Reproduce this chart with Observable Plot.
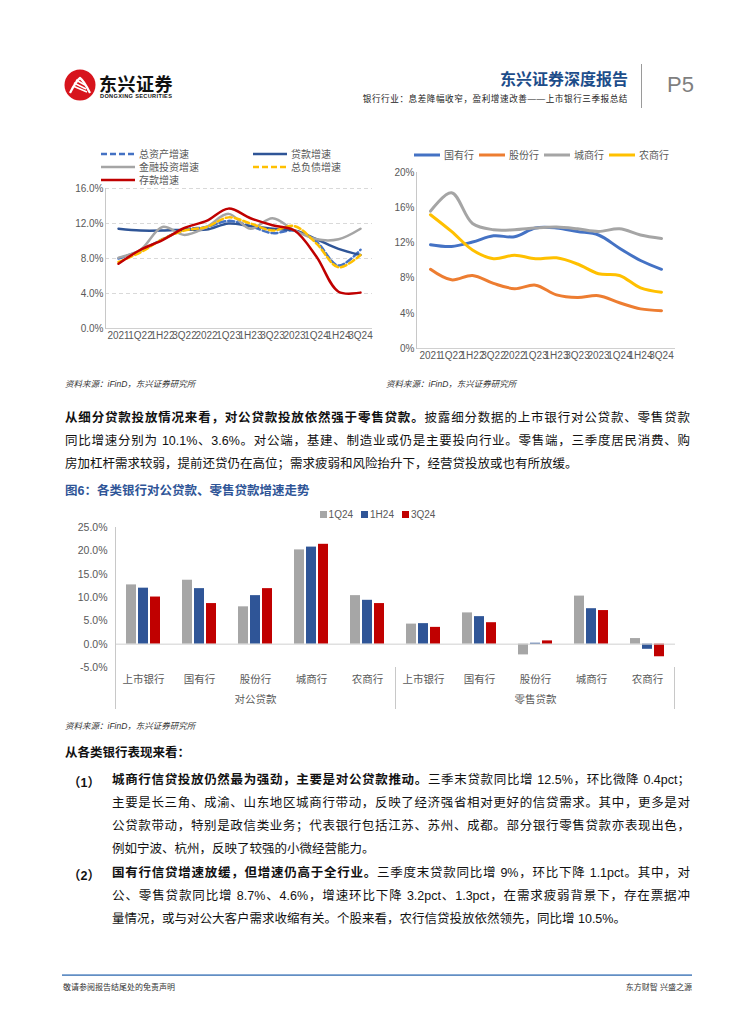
<!DOCTYPE html>
<html lang="zh">
<head>
<meta charset="utf-8">
<script src="https://cdn.jsdelivr.net/npm/d3@7"></script>
<script src="https://cdn.jsdelivr.net/npm/@observablehq/plot@0.6"></script>
<style>
html,body{margin:0;padding:0;background:#fff;}
#page{position:relative;width:755px;height:1024px;overflow:hidden;font-family:"Liberation Sans","Noto Sans CJK SC",sans-serif;color:#111;}
.a{position:absolute;white-space:nowrap;}
.tl{position:absolute;font-size:12.5px;line-height:16px;height:16px;white-space:normal;text-align:justify;text-align-last:justify;}
.tl.last{text-align-last:left;}
.b{font-weight:bold;}
.src{position:absolute;font-size:8.5px;font-style:italic;color:#333;white-space:nowrap;}
.leg{position:absolute;font-size:10px;color:#595959;white-space:nowrap;display:flex;align-items:center;}
.leg svg{display:block;margin-right:4px;}
.chart{position:absolute;}
</style>
</head>
<body>
<div id="page">
  <!-- header -->
  <svg class="a" style="left:64px;top:69px" width="32" height="32" viewBox="0 0 32 32">
    <circle cx="16" cy="16" r="15.5" fill="#d7141d"/>
    <path d="M6 24 Q12 12 16 9 Q20 12 26 24" fill="none" stroke="#fff" stroke-width="2.2"/>
    <path d="M10 14 L22 20 M9 17 L23 23 M12 11 L21 16" stroke="#fff" stroke-width="1.6"/>
  </svg>
  <div class="a b" style="left:99px;top:70px;font-size:18px;letter-spacing:0.5px;color:#111;">东兴证券</div>
  <div class="a b" style="left:100px;top:93px;font-size:5.6px;letter-spacing:0.35px;color:#111;">DONGXING SECURITIES</div>
  <div class="a b" style="right:127px;top:66px;font-size:16px;color:#1d4d8a;">东兴证券深度报告</div>
  <div class="a" style="right:127px;top:92px;font-size:8.6px;letter-spacing:0.55px;color:#222;">银行行业：息差降幅收窄，盈利增速改善——上市银行三季报总结</div>
  <div class="a" style="left:641px;top:64px;width:1px;height:44px;background:#9a9a9a;"></div>
  <div class="a" style="left:667px;top:72px;font-size:22px;color:#7f7f7f;">P5</div>

  <!-- left legend -->
  <div class="leg" style="left:101px;top:146px"><svg width="34" height="6"><line x1="0" y1="3" x2="34" y2="3" stroke="#4472c4" stroke-width="2.5" stroke-dasharray="6,3"/></svg>总资产增速</div>
  <div class="leg" style="left:253px;top:146px"><svg width="34" height="6"><line x1="0" y1="3" x2="34" y2="3" stroke="#2f5597" stroke-width="2.5"/></svg>贷款增速</div>
  <div class="leg" style="left:101px;top:159px"><svg width="34" height="6"><line x1="0" y1="3" x2="34" y2="3" stroke="#a5a5a5" stroke-width="2.5"/></svg>金融投资增速</div>
  <div class="leg" style="left:253px;top:159px"><svg width="34" height="6"><line x1="0" y1="3" x2="34" y2="3" stroke="#ffc000" stroke-width="2.5" stroke-dasharray="6,3"/></svg>总负债增速</div>
  <div class="leg" style="left:101px;top:172px"><svg width="34" height="6"><line x1="0" y1="3" x2="34" y2="3" stroke="#c00000" stroke-width="2.5"/></svg>存款增速</div>

  <!-- right legend -->
  <div class="leg" style="left:414px;top:147px"><svg width="26" height="6"><line x1="0" y1="3" x2="26" y2="3" stroke="#4472c4" stroke-width="3"/></svg>国有行</div>
  <div class="leg" style="left:479px;top:147px"><svg width="26" height="6"><line x1="0" y1="3" x2="26" y2="3" stroke="#ed7d31" stroke-width="3"/></svg>股份行</div>
  <div class="leg" style="left:544px;top:147px"><svg width="26" height="6"><line x1="0" y1="3" x2="26" y2="3" stroke="#a5a5a5" stroke-width="3"/></svg>城商行</div>
  <div class="leg" style="left:609px;top:147px"><svg width="26" height="6"><line x1="0" y1="3" x2="26" y2="3" stroke="#ffc000" stroke-width="3"/></svg>农商行</div>

  <div id="leftChart" class="chart" style="left:60px;top:178px"></div>
  <div id="rightChart" class="chart" style="left:380px;top:162px"></div>

  <div class="src" style="left:65px;top:377px">资料来源：iFinD，东兴证券研究所</div>
  <div class="src" style="left:386px;top:377px">资料来源：iFinD，东兴证券研究所</div>

  <!-- paragraph -->
  <div class="tl" style="left:65px;top:410px;width:625px"><span class="b">从细分贷款投放情况来看，对公贷款投放依然强于零售贷款。</span>披露细分数据的上市银行对公贷款、零售贷款</div>
  <div class="tl" style="left:65px;top:433px;width:625px">同比增速分别为 10.1%、3.6%。对公端，基建、制造业或仍是主要投向行业。零售端，三季度居民消费、购</div>
  <div class="tl last" style="left:65px;top:456px;width:625px">房加杠杆需求较弱，提前还贷仍在高位；需求疲弱和风险抬升下，经营贷投放或也有所放缓。</div>

  <div class="a b" style="left:65px;top:480px;font-size:12.5px;color:#2f5597;">图6：各类银行对公贷款、零售贷款增速走势</div>

  <div id="barLegend" class="leg" style="left:0;width:755px;top:509px;justify-content:center;padding-left:0px;"></div>
  <div id="barChart" class="chart" style="left:60px;top:517px"></div>

  <div class="src" style="left:65px;top:719px">资料来源：iFinD，东兴证券研究所</div>

  <div class="a b" style="left:65px;top:742px;font-size:12.5px;">从各类银行表现来看：</div>

  <div class="a b" style="left:68px;top:772px;font-size:12.5px;">（1）</div>
  <div class="tl" style="left:112px;top:772px;width:578px"><span class="b">城商行信贷投放仍然最为强劲，主要是对公贷款推动。</span>三季末贷款同比增 12.5%，环比微降 0.4pct；</div>
  <div class="tl" style="left:112px;top:795px;width:578px">主要是长三角、成渝、山东地区城商行带动，反映了经济强省相对更好的信贷需求。其中，更多是对</div>
  <div class="tl" style="left:112px;top:818px;width:578px">公贷款带动，特别是政信类业务；代表银行包括江苏、苏州、成都。部分银行零售贷款亦表现出色，</div>
  <div class="tl last" style="left:112px;top:841px;width:578px">例如宁波、杭州，反映了较强的小微经营能力。</div>

  <div class="a b" style="left:68px;top:865px;font-size:12.5px;">（2）</div>
  <div class="tl" style="left:112px;top:865px;width:578px"><span class="b">国有行信贷增速放缓，但增速仍高于全行业。</span>三季度末贷款同比增 9%，环比下降 1.1pct。其中，对</div>
  <div class="tl" style="left:112px;top:888px;width:578px">公、零售贷款同比增 8.7%、4.6%，增速环比下降 3.2pct、1.3pct，在需求疲弱背景下，存在票据冲</div>
  <div class="tl last" style="left:112px;top:911px;width:578px">量情况，或与对公大客户需求收缩有关。个股来看，农行信贷投放依然领先，同比增 10.5%。</div>

  <!-- footer -->
  <div class="a" style="left:62px;top:974px;width:630px;height:2px;background:linear-gradient(#9dbbe0,#4f7fb8);"></div>
  <div class="a" style="left:63px;top:981px;font-size:8px;color:#333;">敬请参阅报告结尾处的免责声明</div>
  <div class="a" style="right:63px;top:981px;font-size:8px;color:#333;">东方财智 兴盛之源</div>
</div>

<script>
// ---------------- data ----------------
const periods = ["2021","1Q22","1H22","3Q22","2022","1Q23","1H23","3Q23","2023","1Q24","1H24","3Q24"];

// left chart: listed banks balance-sheet growth (%)
const leftNames = ["总资产增速","贷款增速","金融投资增速","总负债增速","存款增速"];
const totalAssetsGrowth = [8.0, 8.9, 10.2, 11.3, 11.6, 12.3, 11.7, 10.9, 11.2, 9.9, 7.2, 9.0];
const loanGrowth        = [11.4, 11.2, 11.2, 11.3, 11.3, 12.0, 11.7, 11.4, 11.2, 10.2, 9.1, 8.4];
const investGrowth      = [8.1, 9.0, 11.6, 10.7, 11.6, 13.1, 11.4, 12.6, 11.2, 10.2, 10.2, 11.4];
const liabilityGrowth   = [7.6, 8.7, 10.2, 11.2, 11.6, 12.7, 12.0, 11.2, 11.7, 9.7, 7.0, 8.4];
const depositGrowth     = [7.4, 9.0, 10.1, 11.5, 12.3, 13.7, 12.6, 11.8, 11.2, 8.2, 4.2, 4.1];
const leftTicks = [0, 4, 8, 12, 16];

// right chart: loan growth by bank type (%)
const bankTypes = ["国有行","股份行","城商行","农商行"];
const stateOwnedGrowth = [11.8, 11.6, 12.1, 12.8, 12.7, 13.7, 13.7, 13.3, 12.9, 11.4, 10.0, 9.0];
const jointStockGrowth = [9.0, 7.8, 8.3, 7.4, 6.8, 7.2, 6.1, 5.8, 6.0, 5.2, 4.5, 4.3];
const cityBankGrowth   = [15.6, 17.7, 14.2, 13.5, 13.5, 13.7, 13.8, 13.6, 13.3, 13.6, 12.9, 12.5];
const ruralBankGrowth  = [15.2, 13.3, 11.2, 10.2, 10.6, 10.2, 10.3, 9.6, 8.5, 8.3, 6.9, 6.4];
const rightTicks = [0, 4, 8, 12, 16, 20];

// bar chart: corporate / retail loan growth (%)
const loanGroups = ["对公贷款","零售贷款"];
const barCategories = ["上市银行","国有行","股份行","城商行","农商行"];
const barSeries = ["1Q24","1H24","3Q24"];
const corp1Q24   = [12.7, 13.7, 8.0, 20.2, 10.4];
const corp1H24   = [12.0, 11.9, 10.4, 20.8, 9.4];
const corp3Q24   = [10.1, 8.7, 11.9, 21.4, 8.7];
const retail1Q24 = [4.3, 6.7, -2.3, 10.3, 1.2];
const retail1H24 = [4.4, 5.9, 0.2, 7.6, -1.1];
const retail3Q24 = [3.6, 4.6, 0.7, 7.2, -2.7];
const barTicks = [-5, 0, 5, 10, 15, 20, 25];

// ---------------- styles ----------------
const leftColors = ["#4472c4","#2f5597","#a5a5a5","#ffc000","#c00000"];
const leftDashes = ["6,3", null, null, "6,3", null];
const rightColors = ["#4472c4","#ed7d31","#a5a5a5","#ffc000"];
const barColors = ["#a6a6a6","#2f5597","#c00000"];
const tickFont = '"Liberation Sans", Arial, sans-serif';

// ---------------- left chart ----------------
const leftValues = [totalAssetsGrowth, loanGrowth, investGrowth, liabilityGrowth, depositGrowth];
const leftRows = leftNames.flatMap((n, si) => periods.map((p, i) => ({series: n, period: p, value: leftValues[si][i]})));
const leftPlot = Plot.plot({
  width: 320, height: 172, marginLeft: 45, marginRight: 8, marginTop: 10, marginBottom: 22,
  style: {fontFamily: tickFont, fontSize: "10px", color: "#595959", background: "transparent", overflow: "visible"},
  x: {type: "point", domain: periods, padding: 0.5, label: null, tickSize: 0, tickPadding: 3},
  y: {domain: [0, 16], ticks: leftTicks, tickFormat: d => d.toFixed(1) + "%", label: null, tickSize: 0, tickPadding: 2},
  marks: [
    Plot.ruleY(leftTicks.filter(t => t > 0), {stroke: "#d9d9d9", strokeDasharray: "4,3"}),
    Plot.ruleY([0], {stroke: "#d0d0d0"}),
    Plot.frame({anchor: "left", stroke: "#c8c8c8"}),
    ...leftNames.map((n, si) => Plot.line(leftRows, {
      filter: d => d.series === n, x: "period", y: "value",
      stroke: leftColors[si], strokeWidth: 2.5,
      strokeDasharray: leftDashes[si] || undefined, curve: "catmull-rom"
    }))
  ]
});
document.getElementById("leftChart").appendChild(leftPlot);

// ---------------- right chart ----------------
const rightValues = [stateOwnedGrowth, jointStockGrowth, cityBankGrowth, ruralBankGrowth];
const rightRows = bankTypes.flatMap((n, si) => periods.map((p, i) => ({series: n, period: p, value: rightValues[si][i]})));
const rightPlot = Plot.plot({
  width: 300, height: 208, marginLeft: 36, marginRight: 5, marginTop: 10, marginBottom: 22,
  style: {fontFamily: tickFont, fontSize: "10px", color: "#595959", background: "transparent", overflow: "visible"},
  x: {type: "point", domain: periods, padding: 0.5, label: null, tickSize: 0, tickPadding: 3},
  y: {domain: [0, 20], ticks: rightTicks, tickFormat: d => d + "%", label: null, tickSize: 0, tickPadding: 2},
  marks: [
    Plot.ruleY([0], {stroke: "#d0d0d0"}),
    Plot.frame({anchor: "left", stroke: "#c8c8c8"}),
    ...bankTypes.map((n, si) => Plot.line(rightRows, {
      filter: d => d.series === n, x: "period", y: "value",
      stroke: rightColors[si], strokeWidth: 3, curve: "catmull-rom"
    }))
  ]
});
document.getElementById("rightChart").appendChild(rightPlot);

// ---------------- bar chart ----------------
const barValues = {
  "对公贷款": [corp1Q24, corp1H24, corp3Q24],
  "零售贷款": [retail1Q24, retail1H24, retail3Q24]
};
const barKeys = loanGroups.flatMap(g => barCategories.map(c => g + "|" + c));
const barRows = loanGroups.flatMap(g => barCategories.flatMap((c, ci) => barSeries.map((s, si) => ({
  key: g + "|" + c, group: g, cat: c, series: s, value: barValues[g][si][ci]
}))));
const groupLabelRows = loanGroups.map(g => ({key: g + "|" + barCategories[Math.floor(barCategories.length / 2)], group: g}));

const barPlot = Plot.plot({
  width: 623, height: 195, marginLeft: 52, marginRight: 5, marginTop: 10, marginBottom: 45,
  style: {fontFamily: '"Liberation Sans", "Noto Sans CJK SC", sans-serif', fontSize: "10.5px", color: "#595959", background: "transparent", overflow: "visible"},
  fx: {domain: barKeys, padding: 0, axis: "bottom", tickFormat: d => d.split("|")[1], tickSize: 0, tickPadding: 8, label: null},
  x: {domain: barSeries, axis: null, paddingInner: 0.2, paddingOuter: 0.86},
  y: {domain: [-5, 25], ticks: barTicks, tickFormat: d => d.toFixed(1) + "%", label: null, tickSize: 0, tickPadding: 8},
  color: {domain: barSeries, range: barColors},
  marks: [
    Plot.barY(barRows, {fx: "key", x: "series", y: "value", fill: "series"}),
    Plot.ruleY([0], {stroke: "#d0d0d0"}),
    Plot.text(groupLabelRows, {fx: "key", text: "group", frameAnchor: "bottom", dy: 35, fill: "#595959"})
  ]
});
document.getElementById("barChart").appendChild(barPlot);

// axis / group separators derived from the plot's own scales
(function () {
  const svg = d3.select(barPlot.tagName.toLowerCase() === "svg" ? barPlot : barPlot.querySelector("svg"));
  const fx = barPlot.scale("fx");
  const y = barPlot.scale("y");
  const H = +svg.attr("height");
  const bottom = H - 3;
  const firstOf = loanGroups.map(g => barKeys.find(k => k.startsWith(g + "|")));
  const xs = firstOf.map(k => fx.apply(k));
  const xRight = fx.apply(barKeys[barKeys.length - 1]) + fx.bandwidth;
  const g = svg.append("g").attr("stroke", "#c8c8c8").attr("stroke-width", 1);
  g.append("line").attr("x1", xs[0] + 0.5).attr("x2", xs[0] + 0.5).attr("y1", y.apply(25)).attr("y2", bottom);
  xs.slice(1).forEach(x => g.append("line").attr("x1", x + 0.5).attr("x2", x + 0.5).attr("y1", y.apply(-5)).attr("y2", bottom));
  g.append("line").attr("x1", xRight - 0.5).attr("x2", xRight - 0.5).attr("y1", y.apply(-5)).attr("y2", bottom);
})();

// bar legend
const legendEl = document.getElementById("barLegend");
barSeries.forEach((s, i) => {
  const item = document.createElement("span");
  item.style.display = "flex";
  item.style.alignItems = "center";
  item.style.marginRight = i < barSeries.length - 1 ? "8px" : "0";
  item.innerHTML = `<svg width="7" height="7" style="margin-right:2px"><rect width="7" height="7" fill="${barColors[i]}"/></svg>${s}`;
  legendEl.appendChild(item);
});
</script>
</body>
</html>
